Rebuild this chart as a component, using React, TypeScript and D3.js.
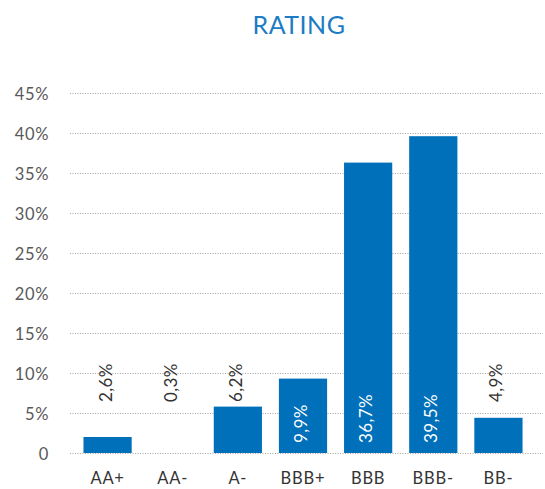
import React, { useRef, useEffect } from 'react';
import * as d3 from 'd3';

const categories = ['AA+', 'AA-', 'A-', 'BBB+', 'BBB', 'BBB-', 'BB-'];
// bar heights as drawn in the picture (percent)
const barValues = [2.0, 0, 5.8, 9.3, 36.3, 39.6, 4.4];
// printed labels
const valueLabels = ['2,6%', '0,3%', '6,2%', '9,9%', '36,7%', '39,5%', '4,9%'];
const yTicks = [0, 5, 10, 15, 20, 25, 30, 35, 40, 45];

const FONT = 'Lato, "Open Sans", sans-serif';

export default function App() {
  const ref = useRef<SVGSVGElement>(null);

  useEffect(() => {
    const svg = d3.select(ref.current);
    svg.selectAll('*').remove();
    const width = 545, height = 489;
    svg.attr('width', width).attr('height', height).attr('viewBox', `0 0 ${width} ${height}`);

    const x = d3.scaleBand()
      .domain(categories)
      .range([75, 531])
      .paddingInner(0.26)
      .paddingOuter(0.13);

    const y = d3.scaleLinear()
      .domain([0, 45])
      .range([453, 93]);

    // title
    svg.append('text')
      .attr('x', 299)
      .attr('y', 34)
      .attr('text-anchor', 'middle')
      .attr('font-family', FONT)
      .attr('font-size', 25)
      .attr('letter-spacing', 0.5)
      .attr('fill', '#1b7bc4')
      .text('RATING');

    // gridlines
    svg.append('g')
      .selectAll('line')
      .data(yTicks)
      .join('line')
      .attr('x1', 70)
      .attr('x2', 543)
      .attr('y1', d => y(d) + 0.5)
      .attr('y2', d => y(d) + 0.5)
      .attr('stroke', '#a6a6a6')
      .attr('stroke-width', 1)
      .attr('stroke-dasharray', '1,1.5');

    // y tick labels
    svg.append('g')
      .selectAll('text')
      .data(yTicks)
      .join('text')
      .attr('x', 49)
      .attr('y', d => y(d))
      .attr('dy', '0.4em')
      .attr('text-anchor', 'end')
      .attr('font-family', FONT)
      .attr('font-size', 16.5)
      .attr('letter-spacing', 0.6)
      .attr('fill', '#595959')
      .text(d => (d === 0 ? '0' : `${d}%`));

    // bars
    svg.append('g')
      .selectAll('rect')
      .data(categories)
      .join('rect')
      .attr('x', d => x(d)!)
      .attr('y', (d, i) => y(barValues[i]))
      .attr('width', x.bandwidth())
      .attr('height', (d, i) => y(0) - y(barValues[i]))
      .attr('fill', '#0070ba');

    // value labels (rotated)
    svg.append('g')
      .selectAll('text')
      .data(categories)
      .join('text')
      .attr('transform', (d, i) => {
        const inside = y(0) - y(barValues[i]) > 60;
        const cx = x(d)! + x.bandwidth() / 2 - 2;
        const yy = inside ? y(0) - 10 : y(0) - 51;
        return `translate(${cx},${yy}) rotate(-90)`;
      })
      .attr('dy', '0.35em')
      .attr('font-family', FONT)
      .attr('font-size', 17)
      .attr('letter-spacing', 0.4)
      .attr('fill', (d, i) => (y(0) - y(barValues[i]) > 60 ? '#ffffff' : '#333333'))
      .text((d, i) => valueLabels[i]);

    // category labels
    svg.append('g')
      .selectAll('text')
      .data(categories)
      .join('text')
      .attr('x', d => x(d)! + x.bandwidth() / 2)
      .attr('y', 484)
      .attr('text-anchor', 'middle')
      .attr('font-family', FONT)
      .attr('font-size', 16.5)
      .attr('letter-spacing', 0.8)
      .attr('fill', '#333333')
      .text(d => d);
  }, []);

  return (
    <svg
      ref={ref}
      role="img"
      aria-label="Rating bar chart"
      style={{ position: 'absolute', left: 0, top: 0 }}
    ></svg>
  );
}
